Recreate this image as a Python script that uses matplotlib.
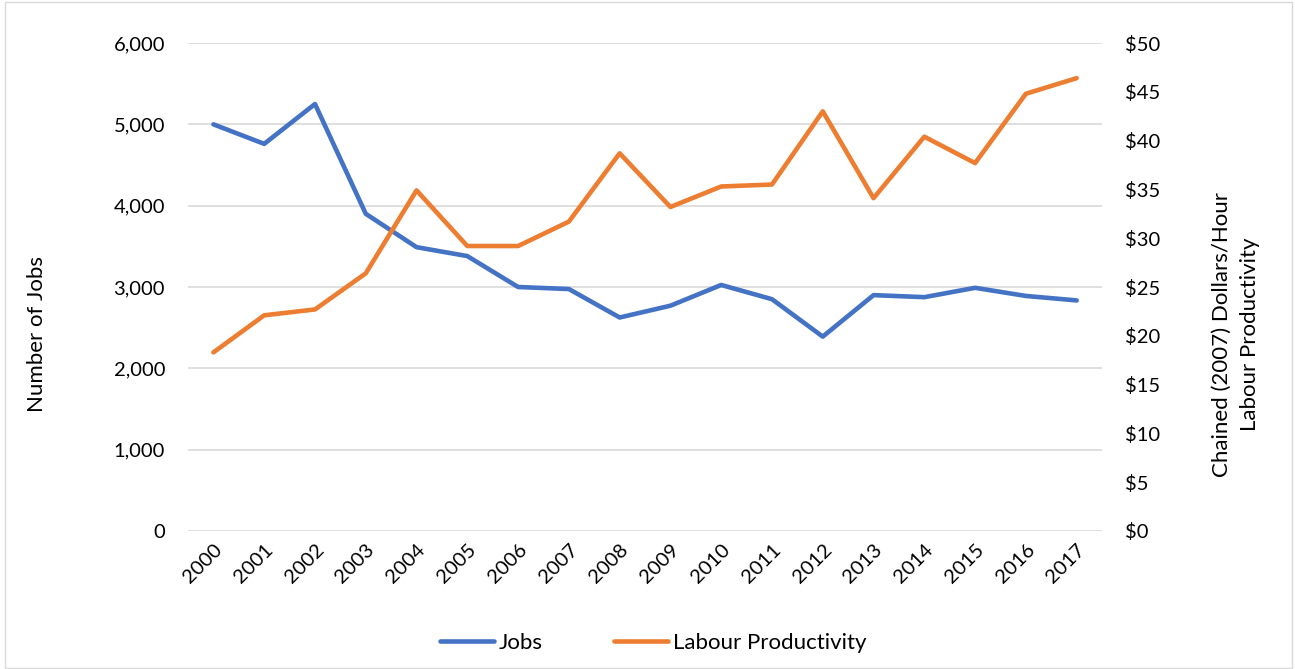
import matplotlib
matplotlib.use("Agg")
import matplotlib.pyplot as plt
from matplotlib.ticker import FuncFormatter
from matplotlib.patches import Rectangle

years = [str(y) for y in range(2000, 2018)]
jobs = [5000, 4760, 5250, 3900, 3490, 3380, 3000, 2975, 2625, 2770, 3025, 2850,
        2390, 2900, 2875, 2990, 2890, 2835]
productivity = [18.3, 22.1, 22.7, 26.4, 34.9, 29.2, 29.2, 31.7, 38.7, 33.2, 35.3, 35.5,
                43.0, 34.1, 40.4, 37.7, 44.8, 46.4]

plt.rcParams['font.family'] = ['Lato', 'DejaVu Sans']
BLUE = '#4472C4'
ORANGE = '#ED7D31'
GRID = '#D9D9D9'
TXT = '#000000'
FS_TICK = 14.5
FS_LAB = 16

fig = plt.figure(figsize=(12.95, 6.69), dpi=100)
fig.patches.append(Rectangle((0.004, 0.002), 0.994, 0.995, transform=fig.transFigure,
                             fill=False, edgecolor='#D9D9D9', linewidth=1))
ax = fig.add_axes([0.1452, 0.2063, 0.7058, 0.7294])
ax2 = ax.twinx()

x = list(range(len(years)))
l1, = ax.plot(x, jobs, color=BLUE, linewidth=3.3, solid_capstyle='round', label='Jobs', zorder=3)
l2, = ax2.plot(x, productivity, color=ORANGE, linewidth=3.3, solid_capstyle='round',
               label='Labour Productivity', zorder=3)

ax.set_xlim(-0.5, len(years) - 0.5)
ax.set_ylim(0, 6000)
ax.set_yticks(range(0, 6001, 1000))
ax.yaxis.set_major_formatter(FuncFormatter(lambda v, p: f'{int(v):,}'))
ax2.set_ylim(0, 50)
ax2.set_yticks(range(0, 51, 5))
ax2.yaxis.set_major_formatter(FuncFormatter(lambda v, p: f'${int(v)}'))

ax.set_xticks(x)
ax.set_xticklabels(years, rotation=45, ha='right', va='top', rotation_mode='anchor')

ax.grid(axis='y', color=GRID, linewidth=1.2)
ax.set_axisbelow(True)
for a in (ax, ax2):
    for s in a.spines.values():
        s.set_visible(False)
    a.tick_params(length=0, labelsize=FS_TICK, colors=TXT)
ax.tick_params(axis='y', pad=16.5)
ax.tick_params(axis='x', pad=7)
ax2.tick_params(axis='y', pad=16.5)

ax.set_ylabel('Number of Jobs', fontsize=FS_LAB)
ax.yaxis.set_label_coords(37 / 1295, 0.5, transform=fig.transFigure)
ax2.set_ylabel('Chained (2007) Dollars/Hour\nLabour Productivity', fontsize=FS_LAB,
               linespacing=1.5)
ax2.yaxis.set_label_coords(1235.5 / 1295, 0.5, transform=fig.transFigure)
ax2.yaxis.label.set_va('center')
ax.yaxis.label.set_va('center')

fig.legend([l1, l2], ['Jobs', 'Labour Productivity'], loc='center',
           bbox_to_anchor=(653 / 1295, 1 - 643 / 669),
           ncol=2, frameon=False, fontsize=FS_LAB, handlelength=2.45, columnspacing=3.2,
           handletextpad=0.2)

fig.savefig('out.png', dpi=100)
